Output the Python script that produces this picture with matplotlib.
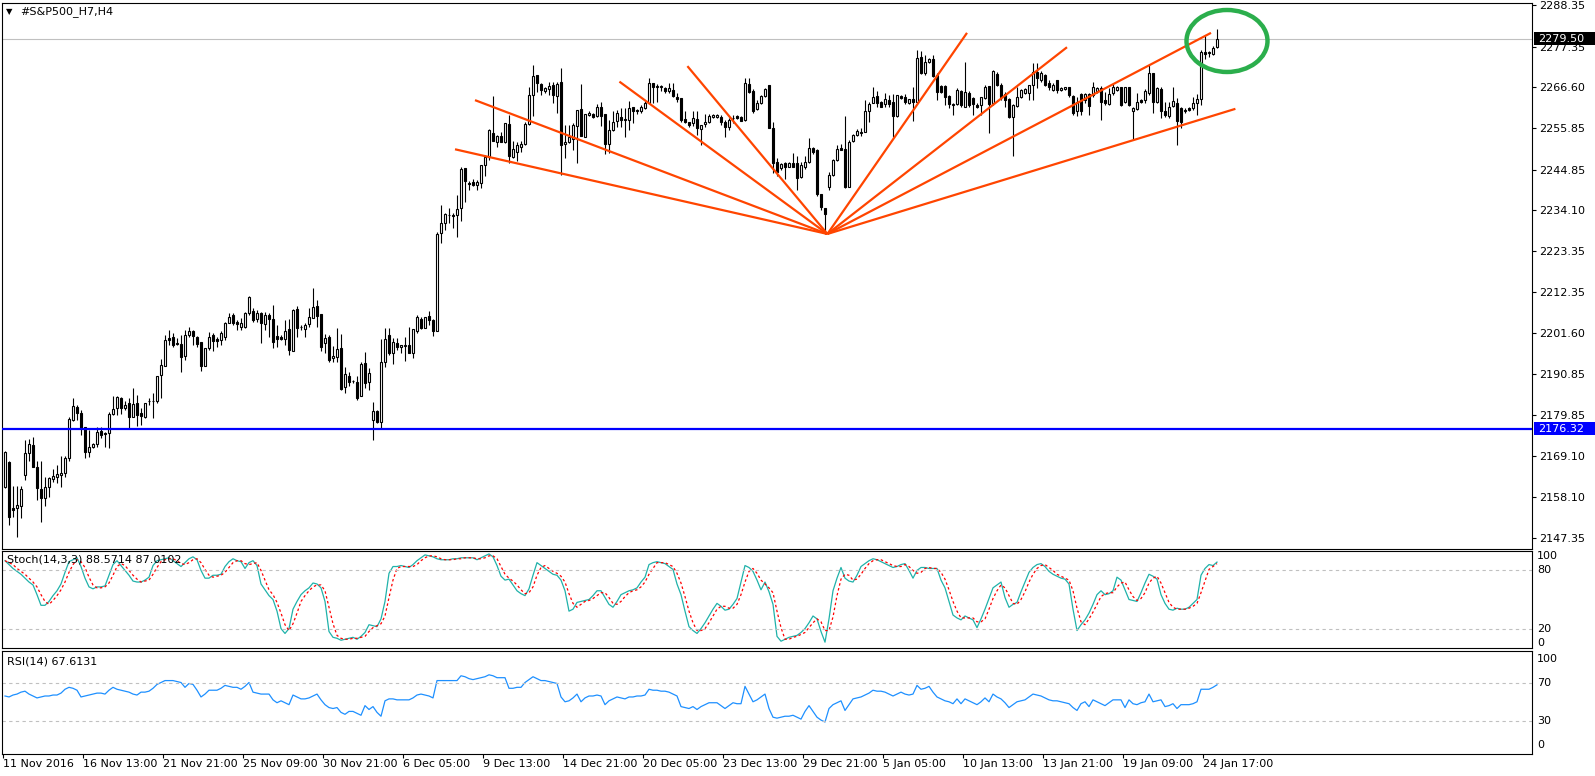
import numpy as np
import matplotlib
matplotlib.use('Agg')
import matplotlib.pyplot as plt
from matplotlib.patches import Ellipse, Rectangle
from matplotlib import transforms

plt.rcParams['font.family'] = ['DejaVu Sans']

# H4 candles (bar 0 = 11 Nov 2016)
opens = [
    2160.9, 2167.4, 2155.2, 2155.4, 2155.7, 2164.0, 2169.9, 2172.0, 2166.2, 2160.2,
    2157.9, 2160.8, 2162.9, 2163.4, 2164.0, 2164.5, 2168.4, 2178.6, 2182.1, 2180.4,
    2176.6, 2170.2, 2171.5, 2172.2, 2175.7, 2175.2, 2175.2, 2180.2, 2181.7, 2184.3,
    2181.7, 2183.0, 2179.5, 2183.0, 2180.5, 2179.3, 2183.5, 2183.6, 2183.5, 2190.5,
    2192.9, 2200.2, 2200.5, 2198.8, 2198.8, 2195.5, 2201.1, 2202.0, 2200.5, 2199.3,
    2192.9, 2197.5, 2201.1, 2199.9, 2199.8, 2200.6, 2204.3, 2206.4, 2204.6, 2203.3,
    2203.3, 2206.8, 2207.5, 2205.2, 2206.8, 2203.9, 2206.4, 2205.2, 2200.8, 2200.6,
    2199.9, 2202.6, 2196.9, 2207.9, 2203.1, 2202.6, 2203.9, 2205.5, 2208.8, 2206.6,
    2198.9, 2200.6, 2194.9, 2195.2, 2197.5, 2187.2, 2190.2, 2189.0, 2188.7, 2184.8,
    2193.6, 2188.7, 2178.6, 2181.0, 2178.0, 2194.0, 2201.1, 2196.4, 2199.0, 2198.0,
    2198.2, 2198.4, 2196.4, 2202.2, 2205.2, 2203.0, 2206.1, 2205.0, 2202.2, 2228.0,
    2230.6, 2232.8, 2232.9, 2232.8, 2234.6, 2245.3, 2241.4, 2241.6, 2240.8, 2241.4,
    2246.0, 2248.1, 2254.6, 2252.2, 2253.7, 2252.2, 2256.9, 2248.1, 2249.6, 2250.9,
    2251.6, 2256.9, 2264.6, 2269.9, 2267.5, 2265.7, 2266.1, 2267.2, 2264.3, 2268.1,
    2251.6, 2252.2, 2252.9, 2256.4, 2260.8, 2253.5, 2259.3, 2259.5, 2259.0, 2261.5,
    2259.5, 2251.6, 2255.3, 2257.8, 2258.7, 2258.3, 2258.0, 2261.3, 2260.2, 2260.4,
    2261.0, 2262.5, 2267.7, 2266.8, 2266.8, 2266.5, 2265.5, 2265.9, 2264.1, 2263.7,
    2258.2, 2257.3, 2257.1, 2258.1, 2255.5, 2256.9, 2257.5, 2258.8, 2258.7, 2258.8,
    2257.5, 2256.0, 2258.4, 2258.9, 2258.7, 2258.0, 2267.5, 2265.7, 2260.8, 2262.5,
    2264.3, 2267.2, 2255.7, 2246.8, 2245.2, 2246.5, 2245.6, 2246.5, 2246.7, 2242.8,
    2245.4, 2246.9, 2250.5, 2250.0, 2238.4, 2234.6, 2240.1, 2243.4, 2247.4, 2250.5,
    2250.2, 2240.3, 2252.5, 2254.0, 2254.4, 2254.9, 2260.2, 2262.5, 2264.3, 2262.8,
    2262.2, 2263.2, 2262.8, 2259.0, 2264.3, 2264.1, 2262.5, 2263.4, 2262.8, 2274.5,
    2270.3, 2273.4, 2274.0, 2269.9, 2266.9, 2266.9, 2264.3, 2262.0, 2262.2, 2265.7,
    2261.5, 2265.2, 2263.7, 2262.0, 2261.9, 2263.7, 2266.9, 2262.4, 2270.1, 2267.2,
    2264.8, 2263.4, 2258.7, 2261.7, 2264.0, 2265.0, 2265.0, 2267.2, 2270.7, 2268.5,
    2269.9, 2267.8, 2265.9, 2268.5, 2265.9, 2266.1, 2266.6, 2264.3, 2260.2, 2264.8,
    2263.2, 2264.8, 2264.6, 2265.5, 2266.3, 2263.2, 2262.2, 2265.0, 2265.9, 2266.6,
    2262.8, 2266.6, 2260.2, 2260.8, 2263.2, 2263.2, 2265.2, 2270.3, 2262.8, 2266.1,
    2260.2, 2259.0, 2261.7, 2262.4, 2261.0, 2260.2, 2261.0, 2261.0, 2262.5, 2263.4,
    2276.0, 2275.6, 2275.4, 2277.2]
highs = [
    2170.5, 2167.6, 2161.1, 2161.1, 2161.1, 2173.3, 2173.5, 2174.2, 2167.6, 2167.6,
    2163.6, 2163.6, 2165.5, 2166.7, 2169.1, 2169.1, 2179.5, 2184.3, 2182.6, 2181.2,
    2176.6, 2175.9, 2172.4, 2176.8, 2176.8, 2175.5, 2180.8, 2184.9, 2184.8, 2184.6,
    2183.7, 2184.3, 2187.0, 2185.2, 2181.7, 2183.2, 2184.3, 2185.8, 2190.1, 2194.6,
    2201.1, 2202.4, 2201.5, 2200.2, 2201.1, 2202.4, 2203.3, 2202.4, 2200.8, 2199.3,
    2197.5, 2201.9, 2201.7, 2200.6, 2202.2, 2204.6, 2206.8, 2206.8, 2205.0, 2205.5,
    2207.2, 2211.4, 2208.1, 2207.7, 2207.2, 2207.2, 2206.8, 2209.0, 2203.7, 2201.1,
    2205.0, 2205.2, 2207.9, 2208.8, 2203.7, 2204.2, 2208.1, 2213.4, 2210.3, 2206.6,
    2201.3, 2201.1, 2198.2, 2202.8, 2201.3, 2192.5, 2191.4, 2189.2, 2190.1, 2194.0,
    2196.7, 2192.3, 2183.3, 2181.3, 2200.0, 2202.8, 2202.8, 2200.2, 2200.2, 2198.4,
    2200.5, 2203.3, 2202.6, 2206.4, 2205.9, 2205.9, 2207.3, 2205.2, 2228.4, 2235.5,
    2233.4, 2234.6, 2233.3, 2238.1, 2245.6, 2245.3, 2241.9, 2242.3, 2242.1, 2246.0,
    2248.7, 2255.5, 2264.3, 2254.0, 2254.9, 2257.1, 2259.3, 2252.5, 2252.2, 2252.5,
    2257.3, 2266.8, 2272.5, 2269.9, 2267.7, 2266.8, 2268.1, 2268.1, 2268.1, 2271.6,
    2256.6, 2256.6, 2257.1, 2260.6, 2267.5, 2259.5, 2260.2, 2259.7, 2262.2, 2262.8,
    2259.5, 2258.0, 2260.2, 2260.6, 2261.0, 2261.0, 2263.1, 2261.5, 2260.8, 2261.9,
    2263.1, 2269.0, 2267.8, 2267.5, 2267.2, 2266.8, 2267.7, 2267.7, 2265.0, 2263.7,
    2260.2, 2257.5, 2260.2, 2260.2, 2256.6, 2259.5, 2259.5, 2259.5, 2259.5, 2259.3,
    2258.0, 2258.4, 2259.3, 2259.2, 2259.0, 2269.0, 2269.0, 2266.1, 2263.2, 2264.5,
    2266.3, 2267.3, 2257.5, 2247.8, 2246.6, 2246.9, 2246.9, 2249.3, 2248.3, 2246.9,
    2248.4, 2253.1, 2250.9, 2250.2, 2238.4, 2234.6, 2244.3, 2247.5, 2251.3, 2251.6,
    2259.0, 2252.7, 2254.3, 2255.5, 2255.7, 2263.2, 2262.8, 2266.6, 2265.7, 2263.1,
    2265.0, 2264.6, 2264.8, 2264.6, 2264.6, 2264.8, 2263.5, 2266.6, 2276.5, 2276.3,
    2275.2, 2274.3, 2275.2, 2270.3, 2267.3, 2267.2, 2264.6, 2262.5, 2266.3, 2265.9,
    2273.4, 2265.5, 2264.1, 2262.4, 2264.1, 2267.2, 2267.0, 2271.2, 2270.6, 2267.7,
    2265.4, 2263.7, 2262.2, 2266.6, 2266.1, 2266.3, 2267.2, 2273.0, 2273.0, 2271.0,
    2270.1, 2268.5, 2267.7, 2268.5, 2266.6, 2266.8, 2266.8, 2264.6, 2264.1, 2265.2,
    2265.0, 2265.0, 2268.1, 2266.6, 2266.9, 2265.4, 2266.3, 2267.5, 2267.0, 2266.8,
    2266.8, 2266.8, 2261.3, 2265.0, 2263.4, 2266.1, 2272.5, 2270.5, 2266.8, 2266.6,
    2262.8, 2262.8, 2266.8, 2263.7, 2261.5, 2261.0, 2261.5, 2264.1, 2264.8, 2276.5,
    2280.4, 2276.3, 2277.4, 2281.9]
lows = [
    2160.5, 2150.8, 2152.8, 2147.7, 2152.6, 2162.7, 2167.6, 2166.2, 2157.4, 2151.7,
    2155.7, 2158.3, 2162.3, 2161.8, 2160.9, 2163.6, 2167.6, 2178.2, 2178.6, 2174.6,
    2168.4, 2168.9, 2171.1, 2171.5, 2173.7, 2171.5, 2171.1, 2179.9, 2179.9, 2180.1,
    2181.2, 2176.1, 2179.3, 2177.0, 2177.3, 2179.0, 2182.6, 2179.0, 2183.2, 2184.3,
    2192.9, 2198.4, 2198.0, 2198.4, 2191.4, 2194.5, 2200.6, 2198.4, 2198.0, 2191.6,
    2192.9, 2197.1, 2196.9, 2198.0, 2198.4, 2199.8, 2204.2, 2203.7, 2202.4, 2202.4,
    2202.8, 2206.4, 2204.6, 2204.6, 2198.9, 2202.4, 2200.6, 2197.5, 2198.0, 2199.8,
    2198.4, 2195.8, 2196.9, 2200.6, 2202.4, 2200.6, 2203.3, 2205.5, 2203.3, 2196.9,
    2196.2, 2194.0, 2193.8, 2194.0, 2186.5, 2185.6, 2187.6, 2188.3, 2183.9, 2184.8,
    2187.0, 2186.5, 2173.3, 2177.9, 2176.4, 2192.5, 2195.8, 2193.4, 2197.1, 2196.2,
    2194.3, 2196.2, 2194.9, 2201.7, 2202.6, 2202.8, 2203.7, 2200.9, 2202.2, 2225.3,
    2228.9, 2230.8, 2229.3, 2226.9, 2231.1, 2236.3, 2239.3, 2240.5, 2239.4, 2240.0,
    2243.1, 2247.4, 2252.5, 2250.7, 2252.0, 2251.8, 2246.5, 2247.8, 2247.2, 2249.6,
    2251.3, 2256.6, 2259.0, 2265.4, 2264.6, 2265.2, 2264.6, 2262.4, 2259.7, 2243.4,
    2247.8, 2251.8, 2250.0, 2246.7, 2253.7, 2253.5, 2258.9, 2258.6, 2258.8, 2256.4,
    2249.0, 2249.1, 2255.1, 2256.0, 2256.0, 2253.4, 2255.3, 2257.1, 2259.5, 2259.9,
    2260.8, 2262.4, 2262.4, 2262.8, 2265.5, 2265.0, 2265.2, 2264.1, 2262.8, 2257.5,
    2257.2, 2256.2, 2256.4, 2254.0, 2251.3, 2256.0, 2257.1, 2258.4, 2258.4, 2256.6,
    2253.5, 2255.3, 2257.1, 2258.2, 2257.6, 2257.8, 2265.0, 2259.9, 2260.6, 2262.3,
    2264.1, 2255.7, 2244.0, 2243.0, 2244.7, 2242.3, 2245.4, 2245.6, 2239.4, 2242.5,
    2244.9, 2246.7, 2249.0, 2237.8, 2234.1, 2227.8, 2239.4, 2243.1, 2247.2, 2250.0,
    2239.9, 2240.3, 2252.2, 2253.7, 2253.7, 2254.9, 2257.5, 2262.5, 2261.3, 2261.3,
    2261.3, 2261.5, 2253.4, 2258.7, 2263.5, 2262.3, 2262.3, 2257.8, 2262.8, 2270.1,
    2269.9, 2273.0, 2269.4, 2263.2, 2265.2, 2262.0, 2261.0, 2259.3, 2262.0, 2261.5,
    2261.3, 2261.3, 2259.3, 2261.0, 2259.3, 2263.5, 2254.4, 2261.9, 2267.0, 2263.2,
    2261.5, 2258.4, 2248.3, 2261.5, 2263.7, 2264.8, 2263.2, 2263.2, 2266.3, 2268.1,
    2266.9, 2265.9, 2265.5, 2265.0, 2265.7, 2265.9, 2263.9, 2259.3, 2259.0, 2259.3,
    2262.4, 2259.3, 2264.1, 2265.2, 2258.0, 2261.9, 2261.9, 2264.6, 2265.7, 2261.7,
    2262.5, 2261.7, 2252.7, 2260.6, 2262.5, 2262.5, 2264.6, 2259.7, 2262.5, 2258.4,
    2258.8, 2258.4, 2261.5, 2251.3, 2255.7, 2259.9, 2260.2, 2260.6, 2259.3, 2262.0,
    2274.0, 2274.7, 2275.2, 2276.9]
closes = [
    2170.2, 2153.0, 2154.8, 2156.1, 2160.3, 2169.8, 2172.2, 2166.2, 2160.5, 2157.9,
    2160.8, 2163.2, 2163.8, 2164.3, 2164.5, 2168.4, 2178.8, 2182.3, 2180.4, 2176.4,
    2170.2, 2171.5, 2172.2, 2175.5, 2174.6, 2174.9, 2180.2, 2181.4, 2184.6, 2181.7,
    2182.6, 2179.3, 2182.8, 2179.9, 2179.6, 2183.2, 2183.7, 2183.6, 2190.1, 2193.1,
    2199.8, 2199.8, 2198.4, 2198.8, 2195.3, 2201.1, 2202.2, 2200.8, 2198.8, 2192.9,
    2197.5, 2200.5, 2199.6, 2199.6, 2201.5, 2204.3, 2205.7, 2204.3, 2203.9, 2204.3,
    2207.0, 2211.2, 2205.1, 2206.8, 2204.2, 2206.4, 2205.2, 2199.3, 2199.9, 2199.9,
    2202.2, 2197.1, 2207.7, 2202.8, 2203.1, 2203.7, 2205.9, 2208.6, 2206.1, 2198.0,
    2200.2, 2194.5, 2195.5, 2197.3, 2186.7, 2190.8, 2188.5, 2188.8, 2184.3, 2193.4,
    2188.3, 2190.9, 2181.0, 2178.0, 2193.9, 2199.9, 2196.4, 2199.3, 2197.8, 2198.4,
    2198.4, 2196.4, 2202.6, 2205.9, 2202.8, 2205.9, 2205.0, 2202.2, 2227.7, 2230.8,
    2233.1, 2232.9, 2232.5, 2234.3, 2244.9, 2241.9, 2241.0, 2240.8, 2241.6, 2246.0,
    2248.2, 2255.3, 2252.5, 2253.7, 2252.2, 2257.1, 2248.3, 2250.2, 2251.3, 2251.6,
    2256.9, 2264.6, 2269.6, 2267.7, 2265.9, 2266.3, 2266.9, 2264.6, 2267.5, 2251.3,
    2252.2, 2253.4, 2256.6, 2260.6, 2253.7, 2259.5, 2259.9, 2258.8, 2261.5, 2259.0,
    2251.6, 2255.3, 2257.5, 2259.7, 2258.0, 2258.0, 2261.0, 2260.2, 2260.6, 2261.5,
    2262.5, 2267.7, 2266.6, 2266.8, 2266.9, 2265.5, 2266.3, 2264.3, 2263.4, 2258.0,
    2257.5, 2256.6, 2258.4, 2255.7, 2256.6, 2257.5, 2259.0, 2259.3, 2259.3, 2257.5,
    2256.2, 2258.0, 2258.4, 2258.4, 2257.8, 2267.7, 2265.4, 2260.2, 2262.5, 2264.3,
    2266.1, 2255.7, 2246.5, 2244.3, 2246.3, 2245.6, 2246.5, 2245.6, 2242.5, 2246.0,
    2246.9, 2250.5, 2249.6, 2238.4, 2235.0, 2233.1, 2243.4, 2247.4, 2250.2, 2250.0,
    2240.3, 2252.2, 2254.0, 2255.1, 2254.9, 2260.2, 2262.2, 2264.1, 2262.5, 2261.5,
    2263.4, 2262.2, 2259.0, 2264.6, 2263.7, 2262.8, 2263.4, 2262.8, 2274.3, 2270.3,
    2273.4, 2274.0, 2269.6, 2265.4, 2265.4, 2264.1, 2262.2, 2262.2, 2265.9, 2262.0,
    2265.4, 2262.0, 2262.2, 2261.5, 2264.0, 2266.8, 2262.2, 2271.0, 2267.2, 2264.1,
    2263.2, 2258.7, 2261.9, 2264.1, 2265.9, 2266.1, 2267.2, 2270.7, 2269.0, 2270.3,
    2267.2, 2266.6, 2267.2, 2265.9, 2266.3, 2266.6, 2264.6, 2259.7, 2262.8, 2260.2,
    2264.8, 2261.7, 2266.6, 2266.4, 2262.8, 2262.4, 2264.8, 2266.6, 2266.6, 2261.9,
    2266.6, 2261.9, 2261.0, 2262.8, 2262.8, 2265.7, 2270.5, 2262.8, 2266.4, 2260.2,
    2259.3, 2261.5, 2263.1, 2257.8, 2257.5, 2260.6, 2260.6, 2262.5, 2263.4, 2276.0,
    2275.4, 2276.0, 2276.9, 2279.5]

# Stochastic(14,3,3): main and signal
stoch_k = [
    90, 86, 82, 79, 76, 72, 68, 65, 55, 44, 44, 48, 54, 59, 66, 78, 89, 91, 93, 84,
    72, 63, 61, 63, 63, 64, 75, 86, 90, 85, 80, 75, 69, 68, 68, 70, 73, 85, 90, 91,
    92, 93, 90, 87, 84, 88, 92, 94, 91, 80, 72, 72, 75, 75, 76, 84, 89, 92, 90, 89,
    82, 88, 90, 85, 66, 60, 54, 50, 38, 20, 15, 20, 40, 48, 55, 59, 62, 67, 66, 62,
    48, 17, 11, 10, 8, 9, 10, 11, 9, 12, 16, 24, 23, 22, 30, 48, 77, 84, 84, 85,
    84, 83, 86, 90, 93, 96, 95, 94, 92, 91, 91, 91, 92, 92, 93, 93, 93, 93, 91, 93,
    95, 97, 94, 85, 74, 70, 71, 65, 59, 56, 54, 61, 75, 88, 85, 82, 79, 76, 75, 70,
    59, 38, 40, 47, 48, 49, 50, 54, 59, 59, 52, 45, 42, 48, 55, 57, 59, 60, 62, 68,
    73, 86, 88, 89, 88, 87, 84, 81, 66, 55, 38, 22, 18, 15, 20, 26, 33, 40, 46, 43,
    39, 40, 45, 51, 68, 85, 83, 79, 70, 60, 68, 58, 45, 12, 7, 9, 11, 12, 13, 16,
    20, 26, 33, 30, 17, 6, 30, 59, 72, 83, 72, 69, 68, 75, 84, 87, 90, 92, 91, 89,
    87, 85, 83, 84, 86, 87, 80, 72, 80, 83, 83, 82, 82, 82, 70, 62, 48, 34, 31, 29,
    33, 31, 29, 21, 30, 40, 51, 62, 65, 68, 52, 42, 45, 47, 58, 68, 78, 83, 86, 87,
    84, 79, 76, 74, 72, 71, 66, 40, 18, 24, 29, 36, 45, 55, 59, 55, 56, 59, 73, 70,
    60, 50, 49, 48, 57, 67, 76, 74, 71, 55, 46, 40, 39, 41, 40, 40, 42, 46, 50, 75,
    82, 86, 85, 88.57]
stoch_d = [
    90, 88, 86, 82, 79, 76, 72, 68, 63, 55, 48, 45, 49, 54, 60, 68, 78, 86, 91, 89,
    83, 73, 65, 62, 62, 63, 67, 75, 84, 87, 85, 80, 75, 71, 68, 69, 70, 76, 83, 89,
    91, 92, 92, 90, 87, 86, 88, 91, 92, 88, 81, 75, 73, 74, 75, 78, 83, 88, 90, 90,
    87, 86, 87, 88, 80, 70, 60, 55, 47, 36, 24, 18, 25, 36, 48, 54, 59, 63, 65, 65,
    59, 42, 25, 13, 10, 9, 9, 10, 10, 11, 12, 17, 21, 23, 25, 33, 52, 70, 82, 84,
    84, 84, 84, 86, 90, 93, 95, 95, 94, 92, 91, 91, 91, 92, 92, 93, 93, 93, 92, 92,
    93, 95, 95, 92, 84, 76, 72, 69, 65, 60, 56, 57, 63, 75, 83, 85, 82, 79, 77, 74,
    68, 56, 46, 42, 45, 48, 49, 51, 54, 57, 57, 52, 46, 45, 48, 53, 57, 59, 60, 63,
    68, 76, 82, 88, 88, 88, 86, 84, 77, 67, 53, 38, 26, 18, 18, 20, 26, 33, 40, 43,
    43, 41, 41, 45, 55, 68, 79, 82, 77, 70, 66, 62, 57, 38, 21, 9, 9, 11, 12, 14,
    16, 21, 26, 30, 27, 18, 18, 32, 54, 71, 76, 75, 70, 71, 76, 82, 87, 90, 91, 91,
    89, 87, 85, 84, 84, 86, 84, 80, 77, 78, 82, 83, 82, 82, 78, 71, 60, 48, 38, 31,
    31, 31, 31, 27, 27, 30, 40, 51, 59, 65, 62, 54, 46, 45, 50, 58, 68, 76, 82, 85,
    86, 83, 80, 76, 74, 72, 70, 59, 41, 27, 24, 30, 37, 45, 53, 56, 57, 57, 63, 67,
    68, 60, 53, 49, 51, 57, 67, 72, 74, 67, 57, 47, 42, 40, 40, 40, 41, 43, 46, 57,
    69, 81, 84, 87.01]

# RSI(14)
rsi = [
    56, 55, 57, 58, 60, 61, 58, 56, 54, 55, 56, 56, 57, 57, 59, 63, 65, 64, 62, 55,
    56, 57, 58, 59, 59, 58, 62, 65, 63, 62, 61, 60, 58, 57, 60, 60, 61, 64, 68, 70,
    72, 72, 72, 71, 70, 65, 69, 68, 62, 55, 58, 62, 62, 62, 64, 67, 66, 65, 65, 63,
    66, 70, 60, 59, 58, 58, 58, 52, 49, 51, 49, 47, 57, 55, 53, 53, 54, 56, 58, 52,
    47, 44, 43, 44, 39, 37, 40, 40, 38, 36, 46, 42, 45, 39, 35, 51, 53, 53, 52, 52,
    52, 52, 54, 57, 58, 57, 56, 54, 72, 72, 72, 72, 72, 72, 77, 76, 74, 73, 74, 75,
    76, 78, 77, 75, 75, 75, 64, 64, 65, 65, 70, 73, 76, 74, 72, 72, 71, 70, 69, 55,
    50, 51, 54, 58, 50, 54, 56, 56, 57, 56, 47, 51, 53, 55, 54, 53, 55, 55, 56, 56,
    57, 63, 62, 62, 61, 61, 60, 58, 56, 45, 44, 43, 45, 42, 45, 47, 49, 49, 49, 46,
    43, 46, 49, 48, 48, 66, 58, 50, 52, 55, 58, 43, 34, 33, 34, 35, 35, 36, 34, 32,
    40, 46, 40, 34, 31, 29, 43, 47, 49, 51, 41, 47, 53, 54, 55, 57, 59, 62, 61, 61,
    60, 58, 56, 58, 60, 58, 57, 58, 67, 63, 64, 66, 60, 55, 53, 51, 50, 48, 53, 48,
    53, 51, 49, 47, 50, 54, 50, 58, 55, 53, 49, 44, 47, 50, 51, 52, 55, 58, 57, 56,
    54, 52, 51, 51, 50, 49, 48, 44, 41, 48, 50, 45, 52, 50, 48, 46, 49, 52, 52, 52,
    44, 52, 48, 47, 49, 50, 58, 50, 51, 52, 45, 46, 48, 43, 47, 47, 47, 48, 50, 63,
    63, 63, 65, 67.61]

price_ticks = [2288.35, 2277.35, 2266.60, 2255.85, 2244.85, 2234.10, 2223.35,
               2212.35, 2201.60, 2190.85, 2179.85, 2169.10, 2158.10, 2147.35]
date_bars = [0, 20, 40, 60, 80, 100, 120, 140, 160, 180, 200, 220, 240, 260, 280, 300]
date_labels = ['11 Nov 2016', '16 Nov 13:00', '21 Nov 21:00', '25 Nov 09:00',
               '30 Nov 21:00', '6 Dec 05:00', '9 Dec 13:00', '14 Dec 21:00',
               '20 Dec 05:00', '23 Dec 13:00', '29 Dec 21:00', '5 Jan 05:00',
               '10 Jan 13:00', '13 Jan 21:00', '19 Jan 09:00', '24 Jan 17:00']

last_price = 2279.50
support = 2176.32

# fan lines drawn from the 30 Dec low
apex_bar, apex_price = 205.6, 2227.8
fan_bars = [112.5, 117.5, 153.6, 170.6, 240.5, 265.5, 301.5, 307.6]
fan_prices = [2250.2, 2263.2, 2268.1, 2272.2, 2281.0, 2277.2, 2281.0, 2260.9]

# circle around the last bars
circle_bar, circle_price = 305.5, 2278.85
circle_w, circle_h = 20.25, 16.4

W, H = 1595, 776
fig = plt.figure(figsize=(W / 100, H / 100), dpi=100)


def panel(top, bottom):
    a = fig.add_axes([2 / W, 1 - bottom / H, 1530 / W, (bottom - top) / H])
    for s in a.spines.values():
        s.set_linewidth(0.8)
    a.set_xlim(-0.75, 381.75)
    return a


ax = panel(3, 549)
ax_st = panel(551, 648)
ax_rsi = panel(651, 754)

# candles
x = np.arange(len(closes))
o = np.array(opens)
h = np.array(highs)
l = np.array(lows)
c = np.array(closes)
lo = np.minimum(o, c)
body = np.maximum(np.abs(c - o), 0.12)
up = c >= o
ax.vlines(x, np.minimum(l, lo), np.maximum(h, np.maximum(o, c)), color='black', lw=0.8, zorder=2)
ax.bar(x[up], body[up], bottom=lo[up], width=0.6, color='white', edgecolor='black', linewidth=0.8, zorder=3)
ax.bar(x[~up], body[~up], bottom=lo[~up], width=0.6, color='black', edgecolor='black', linewidth=0.8, zorder=3)

ax.axhline(last_price, color='#C0C0C0', lw=0.8, zorder=1)
ax.axhline(support, color='#0000FF', lw=1.6, zorder=4)

for b, p in zip(fan_bars, fan_prices):
    ax.plot([apex_bar, b], [apex_price, p], color='#FF4500', lw=1.6, zorder=5, solid_capstyle='butt')

ax.add_patch(Ellipse((circle_bar, circle_price), circle_w, circle_h, fill=False,
                     ec='#2BAE4C', lw=3.2, zorder=6))

ax.set_ylim(2144.45, 2288.9)
ax.yaxis.tick_right()
ax.set_yticks(price_ticks)
ax.set_yticklabels(['%.2f' % v for v in price_ticks])
ax.tick_params(axis='y', length=3, width=0.8, pad=2, labelsize=8)
ax.set_xticks([])

# price boxes on the right scale
blend = transforms.blended_transform_factory(fig.transFigure, ax.transData)
for val, col in [(last_price, 'black'), (support, '#0000FF')]:
    ax.add_patch(Rectangle((1534 / W, val - 1.75), 61 / W, 3.5, transform=blend,
                           fc=col, ec='none', clip_on=False, zorder=10))
    ax.text(1538 / W, val, '%.2f' % val, transform=blend, color='white', fontsize=8,
            va='center', ha='left', zorder=11, clip_on=False)

# stochastic
ax_st.plot(x, stoch_k, color='#20B2AA', lw=0.9)
ax_st.plot(x, stoch_d, color='#FF0000', lw=0.9, ls=(0, (2, 2)))
for lv in (80, 20):
    ax_st.axhline(lv, color='#C0C0C0', lw=0.8, ls=(0, (3, 3)))
ax_st.set_ylim(0, 100)
ax_st.set_xticks([])
ax_st.set_yticks([])

# rsi
ax_rsi.plot(x, rsi, color='#1E90FF', lw=0.9)
for lv in (70, 30):
    ax_rsi.axhline(lv, color='#C0C0C0', lw=0.8, ls=(0, (3, 3)))
ax_rsi.set_ylim(-4.2, 102.7)
ax_rsi.set_yticks([])

# level labels for the two indicator windows
for a, levels in [(ax_st, [100, 80, 20, 0]), (ax_rsi, [100, 70, 30, 0])]:
    tr = transforms.blended_transform_factory(fig.transFigure, a.transData)
    for lv in levels:
        va = 'top' if lv == 100 else ('bottom' if lv == 0 else 'center')
        a.text(1537 / W, lv, str(lv), transform=tr, fontsize=8, va=va, ha='left', clip_on=False)

ax_rsi.set_xticks([b - 0.4 for b in date_bars])
ax_rsi.set_xticklabels(date_labels, ha='left')
ax_rsi.tick_params(axis='x', length=3, width=0.8, pad=0.5, labelsize=8)

# window captions
fig.text(6 / W, 1 - 12 / H, '\u25bc', fontsize=6, va='center')
fig.text(20 / W, 1 - 12 / H, '#S&P500_H7,H4', fontsize=8, va='center')
fig.text(7 / W, 1 - 560 / H, 'Stoch(14,3,3) 88.5714 87.0102', fontsize=8, va='center')
fig.text(7 / W, 1 - 661 / H, 'RSI(14) 67.6131', fontsize=8, va='center')

fig.savefig('out.png', dpi=100)
